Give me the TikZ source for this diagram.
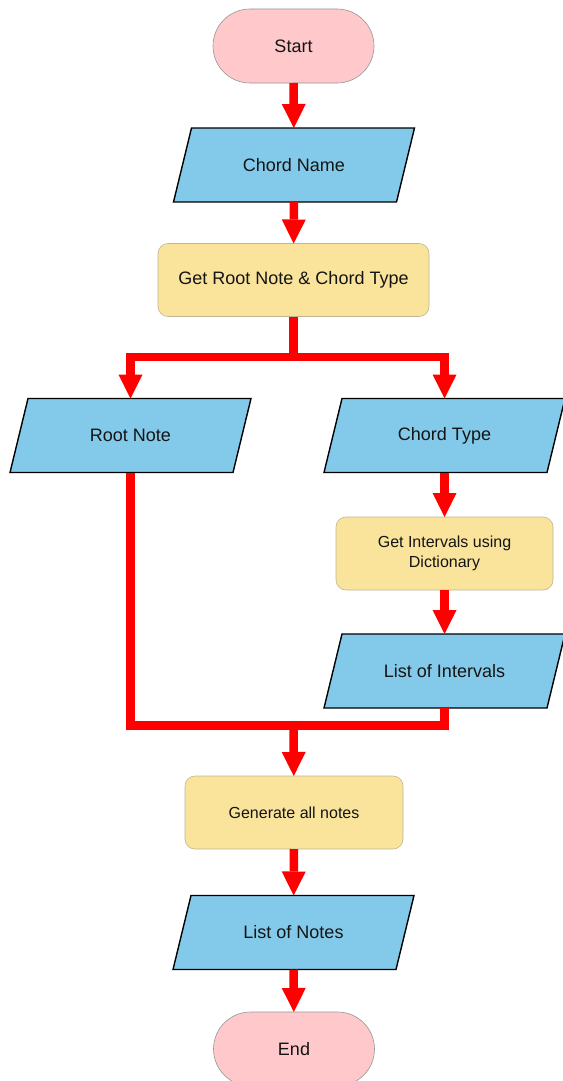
\documentclass[tikz,border=0pt]{standalone}
\usepackage{fontspec}
\setmainfont{Liberation Sans}
\usetikzlibrary{arrows.meta,backgrounds}
\definecolor{termfill}{RGB}{255,200,202}
\definecolor{termline}{RGB}{150,150,150}
\definecolor{iofill}{RGB}{131,202,234}
\definecolor{procfill}{RGB}{250,228,156}
\definecolor{procline}{RGB}{190,180,150}
\definecolor{flowred}{RGB}{255,0,0}
\definecolor{txt}{RGB}{20,20,20}
\tikzset{
  base/.style={outer sep=0pt, inner sep=2pt, text=txt, font=\fontsize{18}{21.6}\selectfont},
  term/.style={base, rectangle, rounded corners=37pt, fill=termfill, draw=termline, line width=0.6pt, minimum width=161pt, minimum height=74pt},
  proc/.style={base, rectangle, rounded corners=10pt, fill=procfill, draw=procline, line width=0.6pt, minimum height=73pt, align=center},
  iobox/.style={base, rectangle, minimum width=241pt, minimum height=74pt},
  iopath/.style={fill=iofill, draw=black, line width=1.4pt, line join=miter},
  flow/.style={draw=flowred, line width=8.5pt, -{Triangle[width=24pt,length=24pt,line width=0pt]}},
  flowline/.style={draw=flowred, line width=8.5pt}
}
\begin{document}
\begin{tikzpicture}[x=1pt,y=-1pt]
\useasboundingbox (0,0) rectangle (562,1081);
\node[term] (start) at (293.5,46) {Start};
\node[iobox] (cn) at (294,165) {Chord Name};
\node[proc, minimum width=271pt] (grn) at (293.5,280) {Get Root Note \& Chord Type};
\node[iobox] (rn) at (130.5,435.5) {Root Note};
\node[iobox] (ct) at (444.5,435.5) {Chord Type};
\node[proc, minimum width=217pt, font=\fontsize{16}{20}\selectfont] (gi) at (444.5,553.5) {Get Intervals using\\Dictionary};
\node[iobox] (li) at (444.5,671) {List of Intervals};
\node[proc, minimum width=218pt, font=\fontsize{16}{20}\selectfont] (gen) at (294,812.5) {Generate all notes};
\node[iobox] (ln) at (293.5,932.5) {List of Notes};
\node[term] (end) at (294,1049) {End};

\begin{scope}[on background layer]
\foreach \n in {cn,rn,ct,li,ln}
  \path[iopath] ([xshift=18pt]\n.north west) -- (\n.north east) -- ([xshift=-18pt]\n.south east) -- (\n.south west) -- cycle;
\end{scope}

\coordinate (split) at (293.5,357);
\coordinate (merge) at (293.5,725.5);

\draw[flow] (start) -- (cn);
\draw[flow] (cn) -- (grn);
\draw[flow] (grn.south) -- (split) -| (rn.north);
\draw[flow] (grn.south) -- (split) -| (ct.north);
\draw[flow] (ct) -- (gi);
\draw[flow] (gi) -- (li);
\draw[flowline] (rn.south) -- (rn.south |- merge) -- (li.south |- merge) -- (li.south);
\draw[flow] (merge) -- (gen);
\draw[flow] (gen) -- (ln);
\draw[flow] (ln) -- (end);
\end{tikzpicture}
\end{document}
